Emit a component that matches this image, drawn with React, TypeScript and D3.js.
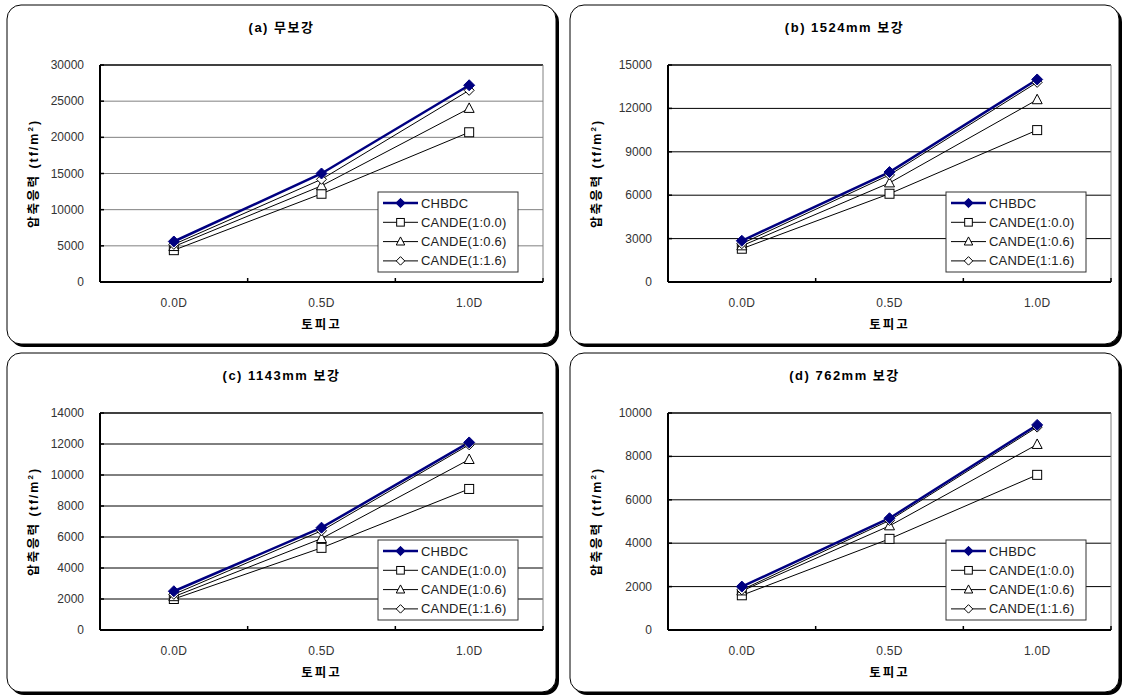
import React from "react";
import * as d3 from "d3";

const categories = ["0.0D", "0.5D", "1.0D"];
const seriesNames = ["CHBDC", "CANDE(1:0.0)", "CANDE(1:0.6)", "CANDE(1:1.6)"];

const titles = ["(a) 무보강", "(b) 1524mm 보강", "(c) 1143mm 보강", "(d) 762mm 보강"];
const yMaxes = [30000, 15000, 14000, 10000];
const ySteps = [5000, 3000, 2000, 2000];

const panelA = [
  [5600, 15000, 27200],
  [4400, 12200, 20700],
  [4900, 13300, 24000],
  [5200, 14200, 26500],
];
const panelB = [
  [2850, 7600, 14000],
  [2300, 6100, 10500],
  [2500, 6850, 12600],
  [2650, 7400, 13800],
];
const panelC = [
  [2500, 6600, 12100],
  [2000, 5300, 9100],
  [2150, 5900, 11000],
  [2300, 6400, 11950],
];
const panelD = [
  [2000, 5150, 9450],
  [1600, 4200, 7150],
  [1800, 4800, 8550],
  [1850, 5050, 9350],
];
const panelData = [panelA, panelB, panelC, panelD];

const FONT = "'Liberation Sans', Arial, 'Noto Sans CJK KR', sans-serif";
const KFONT = "'Liberation Sans', 'Noto Sans CJK KR', sans-serif";

function Marker({ kind, x, y, small }: { kind: number; x: number; y: number; small?: boolean }) {
  const k = small ? 0.85 : 1;
  if (kind === 0) {
    const s = 5.5 * k;
    return <path d={`M${x},${y - s}L${x + s},${y}L${x},${y + s}L${x - s},${y}Z`} fill="#000080" stroke="#000080" strokeWidth={1} />;
  }
  if (kind === 1) {
    const s = 4.5 * k;
    return <rect x={x - s} y={y - s} width={2 * s} height={2 * s} fill="white" stroke="black" strokeWidth={1} />;
  }
  if (kind === 2) {
    return <path d={`M${x},${y - 5.5 * k}L${x + 5 * k},${y + 4 * k}L${x - 5 * k},${y + 4 * k}Z`} fill="white" stroke="black" strokeWidth={1} />;
  }
  const s = 5 * k;
  return <path d={`M${x},${y - s}L${x + s},${y}L${x},${y + s}L${x - s},${y}Z`} fill="white" stroke="black" strokeWidth={1} />;
}

function Panel({ idx, bx, by }: { idx: number; bx: number; by: number }) {
  const bw = 549;
  const bh = 339;
  const left = bx + (idx % 2 === 0 ? 93 : 98);
  const right = left + 443;
  const top = by + 60;
  const bottom = top + 217;
  const yMax = yMaxes[idx];
  const step = ySteps[idx];
  const y = d3.scaleLinear().domain([0, yMax]).range([bottom, top]);
  const x = d3.scaleBand().domain(categories).range([left, right]).paddingInner(0).paddingOuter(0);
  const cx = (c: string) => (x(c) as number) + x.bandwidth() / 2;
  const ticks = d3.range(0, yMax + 1, step);
  const data = panelData[idx];
  const line = d3
    .line<number>()
    .x((_, i) => cx(categories[i]))
    .y((v) => y(v));
  const order = [1, 2, 3, 0];
  const lgX = left + 278;
  const lgY = top + 127;
  const lgW = 140;
  const lgH = 80;
  const gridColor = idx === 0 ? "#808080" : "#000";
  return (
    <g>
      <rect x={bx + 3} y={by + 3} width={bw} height={bh} rx={14} fill="black" />
      <rect x={bx} y={by} width={bw} height={bh} rx={14} fill="white" stroke="black" strokeWidth={1} />
      <text x={bx + bw / 2} y={by + 27} textAnchor="middle" fontFamily={KFONT} fontWeight="bold" fontSize={13} letterSpacing={1.5}>
        {titles[idx]}
      </text>
      {ticks.map((t) =>
        t > 0 && t < yMax ? (
          <line key={"g" + t} x1={left} x2={right} y1={y(t)} y2={y(t)} stroke={gridColor} strokeWidth={1} />
        ) : null
      )}
      <line x1={left} x2={right} y1={top} y2={top} stroke="#000" strokeWidth={1.5} />
      <line x1={right} x2={right} y1={top} y2={bottom} stroke="#808080" strokeWidth={1} />
      {ticks.map((t) => (
        <g key={"t" + t}>
          <line x1={left} x2={left + 4} y1={y(t)} y2={y(t)} stroke="#000" strokeWidth={1.5} />
          <text x={left - 16} y={y(t) + 4} textAnchor="end" fontFamily={FONT} fontSize={12} fill="#333">
            {t}
          </text>
        </g>
      ))}
      {d3.range(0, categories.length + 1).map((i) => {
        const tx = left + i * x.bandwidth();
        return <line key={"xt" + i} x1={tx} x2={tx} y1={bottom} y2={bottom - 4} stroke="#000" strokeWidth={1.5} />;
      })}
      <line x1={left} x2={left} y1={top} y2={bottom} stroke="#000" strokeWidth={2} />
      <line x1={left} x2={right} y1={bottom} y2={bottom} stroke="#000" strokeWidth={2} />
      {categories.map((c) => (
        <text key={c} x={cx(c)} y={bottom + 25} textAnchor="middle" fontFamily={FONT} fontSize={12} fill="#333" letterSpacing={0.3}>
          {c}
        </text>
      ))}
      <text x={(left + right) / 2} y={bottom + 47} textAnchor="middle" fontFamily={KFONT} fontWeight="bold" fontSize={12.5} letterSpacing={2}>
        토피고
      </text>
      <text
        transform={`translate(${bx + 31},${(top + bottom) / 2}) rotate(-90)`}
        textAnchor="middle"
        fontFamily={KFONT}
        fontWeight="bold"
        fontSize={12.5}
        letterSpacing={2}
      >
        압축응력 (tf/m<tspan dy={-5} fontSize={8}>2</tspan>
        <tspan dy={5}>)</tspan>
      </text>
      {order.map((s) => (
        <path
          key={"l" + s}
          d={line(data[s]) || ""}
          fill="none"
          stroke={s === 0 ? "#000080" : "#000"}
          strokeWidth={s === 0 ? 2.5 : 1}
        />
      ))}
      {order.map((s) =>
        data[s].map((v, i) => <Marker key={"m" + s + "-" + i} kind={s} x={cx(categories[i])} y={y(v)} />)
      )}
      <rect x={lgX} y={lgY} width={lgW} height={lgH} fill="white" stroke="#333" strokeWidth={1} />
      {seriesNames.map((n, i) => {
        const ry = lgY + 11 + i * 19.3;
        return (
          <g key={n}>
            <line x1={lgX + 5} x2={lgX + 40} y1={ry} y2={ry} stroke={i === 0 ? "#000080" : "#000"} strokeWidth={i === 0 ? 2.5 : 1} />
            <Marker kind={i} x={lgX + 22.5} y={ry} small />
            <text x={lgX + 43} y={ry + 4.5} fontFamily={FONT} fontSize={13} fill="#222" letterSpacing={0.2}>
              {n}
            </text>
          </g>
        );
      })}
    </g>
  );
}

export default function App() {
  const positions = [
    [7, 5],
    [570, 5],
    [7, 353],
    [570, 353],
  ];
  return (
    <svg width={1123} height={700} style={{ position: "absolute", left: 0, top: 0 }} xmlns="http://www.w3.org/2000/svg">
      <rect x={0} y={0} width={1123} height={700} fill="white" />
      {positions.map((p, i) => (
        <Panel key={i} idx={i} bx={p[0]} by={p[1]} />
      ))}
    </svg>
  );
}
